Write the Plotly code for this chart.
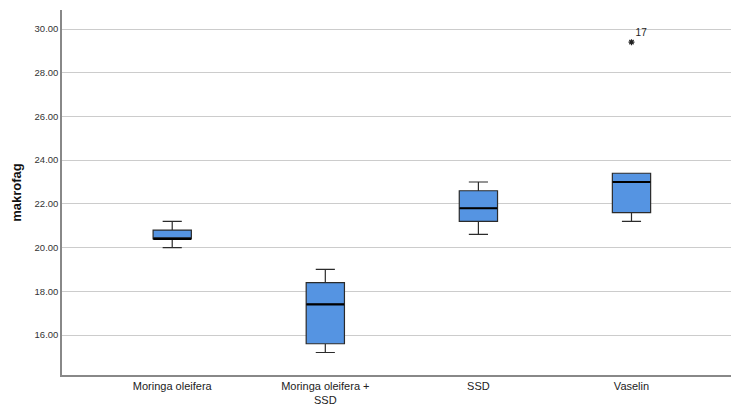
import plotly.graph_objects as go

categories = ["Moringa oleifera", "Moringa oleifera +<br>SSD", "SSD", "Vaselin"]
lower_whisker = [20.0, 15.2, 20.6, 21.2]
q1 = [20.4, 15.6, 21.2, 21.6]
median = [20.4, 17.4, 21.8, 23.0]
q3 = [20.8, 18.4, 22.6, 23.4]
upper_whisker = [21.2, 19.0, 23.0, 23.4]
outlier_cat = ["Vaselin"]
outlier_val = [29.4]
outlier_label = ["17"]

fig = go.Figure()
fig.add_trace(go.Box(
    x=categories, q1=q1, median=median, q3=q3,
    lowerfence=lower_whisker, upperfence=upper_whisker,
    fillcolor="#5594e2", line=dict(color="#2b2b2b", width=1.2),
    width=0.25, whiskerwidth=0.5, boxpoints=False, showlegend=False,
    hoverinfo="skip",
))
fig.add_trace(go.Scatter(
    x=categories, y=median, mode="markers",
    marker=dict(symbol="line-ew", size=27, color="black",
                line=dict(color="black", width=2.2)),
    showlegend=False, hoverinfo="skip",
))
fig.add_trace(go.Scatter(
    x=outlier_cat, y=outlier_val, mode="markers+text",
    text=outlier_label, textposition="top right",
    textfont=dict(size=10, color="#222", family="Liberation Sans"),
    marker=dict(symbol="asterisk-open", size=5, color="#222",
                line=dict(color="#222", width=1.2)),
    showlegend=False, hoverinfo="skip",
))

fig.update_layout(
    width=731, height=408,
    margin=dict(l=62, r=0, t=10, b=33, autoexpand=False),
    paper_bgcolor="white", plot_bgcolor="white",
    font=dict(family="Liberation Sans", color="#222"),
    xaxis=dict(
        range=[-0.72, 3.65], showgrid=False, zeroline=False, automargin=False,
        showline=True, linecolor="#888", linewidth=1.5,
        ticks="", tickfont=dict(size=11, color="#222"),
    ),
    yaxis=dict(
        range=[14.17, 30.87], tick0=0, dtick=2, tickformat=".2f", automargin=False,
        showgrid=True, gridcolor="#cccccc", gridwidth=1, zeroline=False,
        showline=True, linecolor="#888", linewidth=1.5,
        ticks="", tickfont=dict(size=9.5, color="#333"),
        title=dict(text="<b>makrofag</b>", font=dict(size=13, color="#111"), standoff=10),
    ),
)

# remove the browser's default 8px body margin so the figure fills the window exactly
fig.write_html(
    "out.html",
    config={"displayModeBar": False},
    post_script="document.body.style.margin='0';document.body.style.overflow='hidden';",
)
